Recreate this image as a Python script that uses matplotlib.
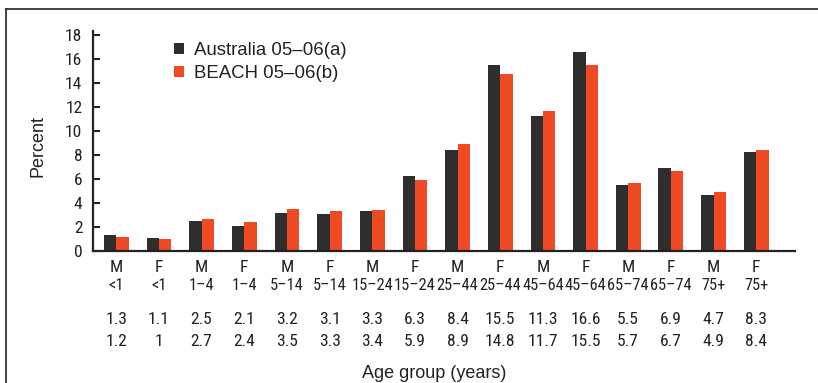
import matplotlib
matplotlib.use("Agg")
import matplotlib.pyplot as plt
import matplotlib.transforms as mtransforms
from matplotlib import font_manager
from matplotlib.font_manager import FontProperties
from matplotlib.lines import Line2D
import numpy as np

sex = ["M", "F", "M", "F", "M", "F", "M", "F", "M", "F", "M", "F", "M", "F", "M", "F"]
age_groups = ["<1", "<1", "1–4", "1–4", "5–14", "5–14", "15–24", "15–24",
              "25–44", "25–44", "45–64", "45–64", "65–74", "65–74", "75+", "75+"]
australia = [1.3, 1.1, 2.5, 2.1, 3.2, 3.1, 3.3, 6.3, 8.4, 15.5, 11.3, 16.6, 5.5, 6.9, 4.7, 8.3]
beach = [1.2, 1, 2.7, 2.4, 3.5, 3.3, 3.4, 5.9, 8.9, 14.8, 11.7, 15.5, 5.7, 6.7, 4.9, 8.4]
australia_txt = ["1.3", "1.1", "2.5", "2.1", "3.2", "3.1", "3.3", "6.3", "8.4", "15.5",
                 "11.3", "16.6", "5.5", "6.9", "4.7", "8.3"]
beach_txt = ["1.2", "1", "2.7", "2.4", "3.5", "3.3", "3.4", "5.9", "8.9", "14.8",
             "11.7", "15.5", "5.7", "6.7", "4.9", "8.4"]
series_names = ["Australia 05–06(a)", "BEACH 05–06(b)"]
yticks = [0, 2, 4, 6, 8, 10, 12, 14, 16, 18]

dark = "#2e2e2e"
orange = "#ee4b24"
txtc = "#222222"

entries = font_manager.fontManager.ttflist
names = {f.name for f in entries}
regular = "Liberation Sans" if "Liberation Sans" in names else "DejaVu Sans"
plt.rcParams["font.family"] = [regular, "DejaVu Sans"]

cond_family = None
for pref in ["Liberation Sans Narrow", "Roboto Condensed", "Open Sans Condensed",
             "DejaVu Sans Condensed"]:
    if pref in names:
        cond_family = pref
        break
if cond_family is None:
    cond_family = regular
    age_size, big_size = 10.5, 11.5
else:
    age_size, big_size = 11.8, 12.6
fp_age = FontProperties(family=cond_family, size=age_size)
fp_big = FontProperties(family=cond_family, size=big_size)

W, H = 818, 383
fig = plt.figure(figsize=(W / 100, H / 100), dpi=100)
ax = fig.add_axes([92.7 / W, 1 - 251 / H, (795 - 92.7) / W, (251 - 30.6) / H])

x = np.arange(len(sex))
w = 0.29
ax.bar(x - w / 2, australia, width=w, color=dark, label=series_names[0])
ax.bar(x + w / 2, beach, width=w, color=orange, label=series_names[1])

ax.set_xlim(-0.553, 15.91)
ax.set_ylim(0, 18.4)
ax.set_yticks(yticks)
ax.tick_params(axis="y", direction="in", length=5, width=1.5, pad=7.5, colors=txtc,
               labelsize=big_size, labelfontfamily=cond_family)
ax.set_xticks(x)
ax.tick_params(axis="x", length=0, labelbottom=False)

for sp in ["top", "right"]:
    ax.spines[sp].set_visible(False)
for sp in ["left", "bottom"]:
    ax.spines[sp].set_linewidth(1.6)
    ax.spines[sp].set_color(txtc)

trans = mtransforms.blended_transform_factory(ax.transData, ax.transAxes)
axh = 251 - 30.6
rows = [(268, sex, fp_big), (286, age_groups, fp_age),
        (319, australia_txt, fp_big), (342, beach_txt, fp_big)]
for ypx, labels, fpr in rows:
    for i, lab in enumerate(labels):
        ax.text(x[i], -(ypx - 251) / axh, lab, transform=trans, ha="center",
                va="center", fontproperties=fpr, color=txtc)

fig.text(434 / W, 1 - 373 / H, "Age group (years)", ha="center", va="center",
         fontsize=13, color=txtc)
fig.text(38 / W, 1 - 146 / H, "Percent", ha="center", va="center", rotation=90,
         fontsize=13, color=txtc)

leg = ax.legend(loc="upper left", bbox_to_anchor=(174 / W, 1 - 42 / H),
                bbox_transform=fig.transFigure, frameon=False, fontsize=13.4,
                handlelength=0.55, handleheight=0.55, handletextpad=0.55,
                labelspacing=0.34, borderpad=0, borderaxespad=0)
for t in leg.get_texts():
    t.set_color(txtc)

# outer frame (left and top edges)
fig.add_artist(Line2D([6 / W, 6 / W], [0, 1 - 9 / H], transform=fig.transFigure,
                      color="#333333", linewidth=1.3))
fig.add_artist(Line2D([6 / W, 1], [1 - 9 / H, 1 - 9 / H], transform=fig.transFigure,
                      color="#333333", linewidth=1.3))

fig.savefig("out.png", dpi=100)
